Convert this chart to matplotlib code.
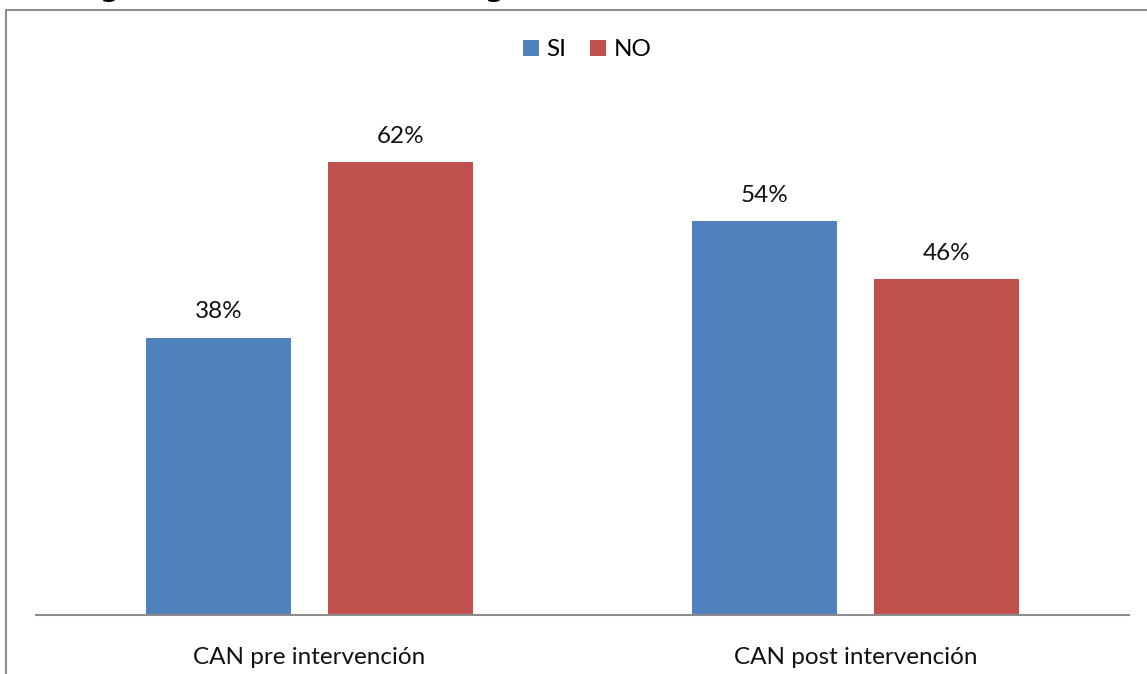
import numpy as np
import matplotlib.pyplot as plt
from matplotlib.patches import Rectangle

categories = ['CAN pre intervención', 'CAN post intervención']
series_names = ['SI', 'NO']
si_values = [38, 54]
no_values = [62, 46]
colors = ['#4F81BD', '#C0504D']

plt.rcParams['font.family'] = ['Lato', 'DejaVu Sans']

W, H = 1147, 674
fig = plt.figure(figsize=(W / 100, H / 100), dpi=100)

# outer chart frame (right and bottom edges fall outside the image)
fig.patches.append(Rectangle((6 / W, -0.1), 1.2, (H - 10) / H + 0.1,
                             transform=fig.transFigure, fill=False,
                             edgecolor='#8c8c8c', linewidth=1.5))

# bottom of a cut-off bold title above the chart
for gx in [110, 495]:
    fig.text(gx / W, 1 + 4 / H, 'g', fontsize=20, fontweight='bold',
             ha='center', va='baseline', family=['DejaVu Sans'])

ax_left, ax_right, ax_bottom = 36, 1129, 615
ymax = 75
px_per_unit = 7.3
ax_top = ax_bottom - ymax * px_per_unit
ax = fig.add_axes([ax_left / W, 1 - ax_bottom / H,
                   (ax_right - ax_left) / W, (ax_bottom - ax_top) / H])

x = np.arange(len(categories))
width = 0.265
offset = 0.1665
bars_si = ax.bar(x - offset, si_values, width, color=colors[0], label=series_names[0])
bars_no = ax.bar(x + offset, no_values, width, color=colors[1], label=series_names[1])

fs = 17.5
for bars in (bars_si, bars_no):
    for b in bars:
        ax.annotate(f'{b.get_height():.0f}%', (b.get_x() + b.get_width() / 2, b.get_height()),
                    xytext=(0, 11), textcoords='offset points', ha='center', va='bottom',
                    fontsize=fs, color='#111111')

ax.set_xlim(-0.5, 1.5)
ax.set_ylim(0, ymax)
ax.set_yticks([])
ax.set_xticks(x)
ax.set_xticklabels(categories, fontsize=fs, color='#111111')
ax.tick_params(axis='x', length=0, pad=23)
for s in ['top', 'right', 'left']:
    ax.spines[s].set_visible(False)
ax.spines['bottom'].set_color('#8c8c8c')
ax.spines['bottom'].set_linewidth(1.5)

fig.legend(loc='center', bbox_to_anchor=(587 / W, 1 - 50 / H), ncol=2, frameon=False,
           fontsize=fs, handlelength=0.65, handleheight=0.65, handletextpad=0.3,
           columnspacing=1.0)

fig.savefig('out.png', dpi=100)
